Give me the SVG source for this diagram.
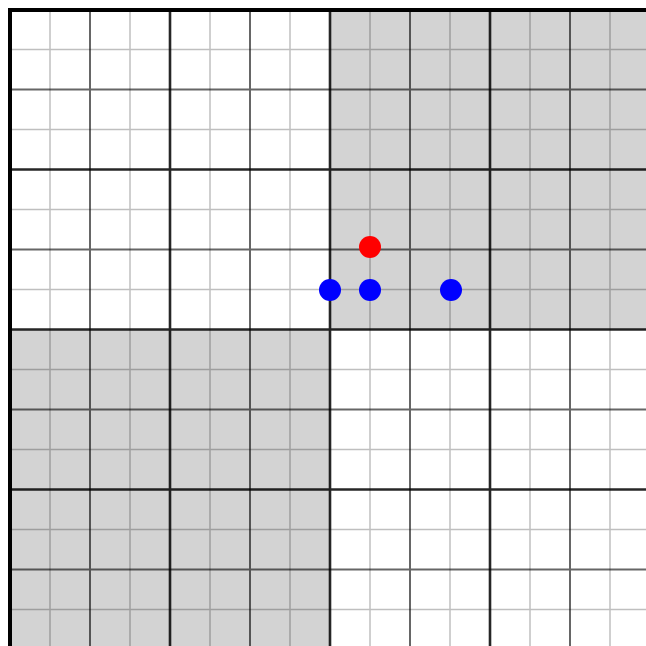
<svg xmlns="http://www.w3.org/2000/svg" width="646" height="646" viewBox="0 0 646 646">
<style>
.shade{fill:#d3d3d3}
.fine{stroke:#000;stroke-opacity:0.25;stroke-width:1.5;fill:none}
.mid{stroke:#000;stroke-opacity:0.6;stroke-width:2;fill:none}
.thick{stroke:#000;stroke-opacity:0.85;stroke-width:2.6;fill:none}
.border{stroke:#000;stroke-width:4;fill:none}
.red{fill:#ff0000}
.blue{fill:#0000ff}
</style>
<rect width="646" height="646" fill="#fff"/>
<g id="shading">
<rect class="shade" x="330" y="10" width="320" height="320"/>
<rect class="shade" x="10" y="330" width="320" height="320"/>
</g>
<g id="grid">
<path class="fine" d="M50 10V650M130 10V650M210 10V650M290 10V650M370 10V650M450 10V650M530 10V650M610 10V650M10 49.5H650M10 129.5H650M10 209.5H650M10 289.5H650M10 369.5H650M10 449.5H650M10 529.5H650M10 609.5H650"/>
<path class="mid" d="M90 10V650M250 10V650M410 10V650M570 10V650M10 89.5H650M10 249.5H650M10 409.5H650M10 569.5H650"/>
<path class="thick" d="M170 10V650M330 10V650M490 10V650M10 169.5H650M10 329.5H650M10 489.5H650"/>
<path class="border" d="M10 650V10H650"/>
</g>
<g id="points">
<circle id="p-red" class="red" cx="370" cy="247" r="11"/>
<circle id="p-blue1" class="blue" cx="330" cy="290" r="11"/>
<circle id="p-blue2" class="blue" cx="370" cy="290" r="11"/>
<circle id="p-blue3" class="blue" cx="451" cy="290" r="11"/>
</g>
</svg>
